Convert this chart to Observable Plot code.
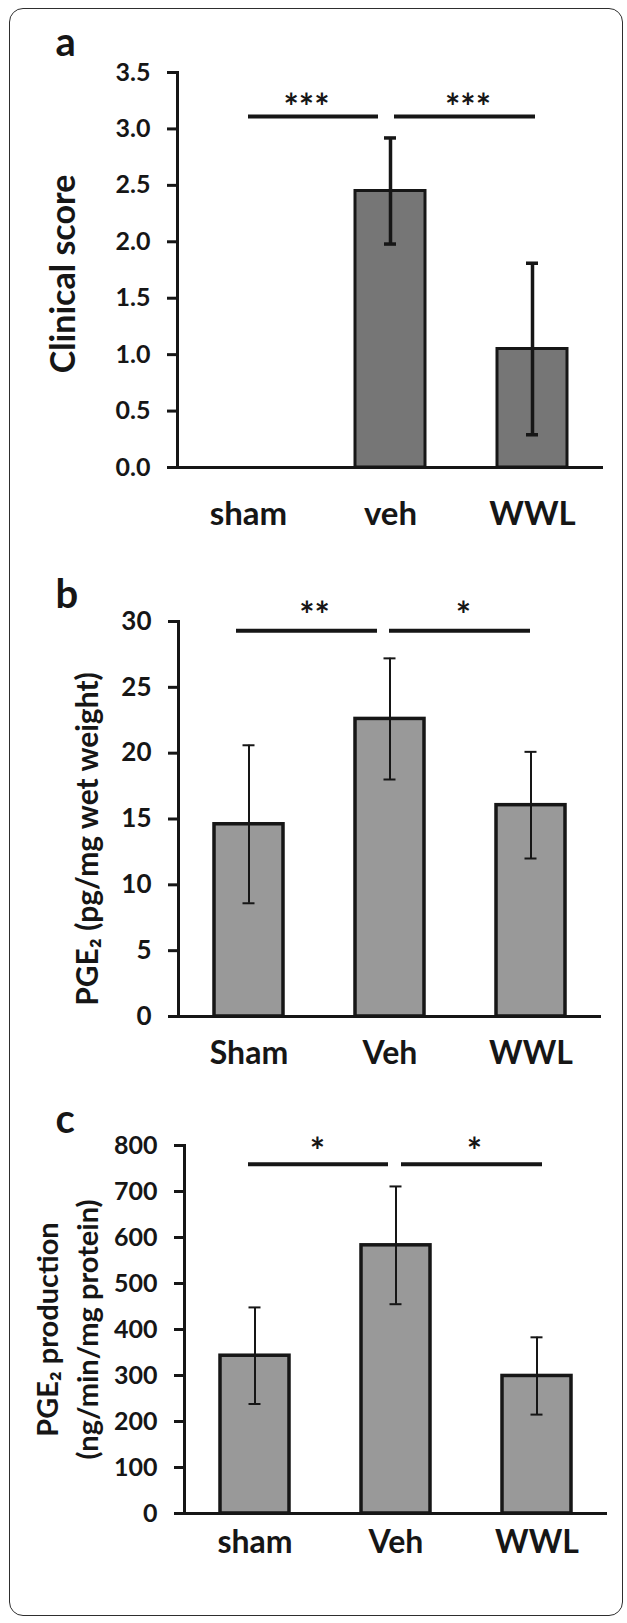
<!DOCTYPE html>
<html><head><meta charset="utf-8">
<script src="https://cdn.jsdelivr.net/npm/d3@7"></script>
<script src="https://cdn.jsdelivr.net/npm/@observablehq/plot@0.6"></script>
<style>
html,body{margin:0;padding:0;background:#fff;}
#wrap{position:relative;width:627px;height:1623px;overflow:hidden;}
#border{position:absolute;left:9px;top:8px;width:614px;height:1608px;border:1.5px solid #2e2e2e;border-radius:14px;box-sizing:border-box;}
.panel{position:absolute;left:0;}
</style></head><body>
<div id="wrap"><div id="border"></div></div>
<script>
// ---- Panel a: clinical score ----
const groupsA = ["sham", "veh", "WWL"];
const meanA = [0, 2.45, 1.05];
const errA = [0, 0.47, 0.76];
const ticksA = [0, 0.5, 1, 1.5, 2, 2.5, 3, 3.5];
const sigA = [{from: "sham", to: "veh", label: "***"}, {from: "veh", to: "WWL", label: "***"}];
const sigLevelA = 3.11;
const titleA = "Clinical score";

// ---- Panel b: PGE2 tissue ----
const groupsB = ["Sham", "Veh", "WWL"];
const meanB = [14.6, 22.6, 16.05];
const errB = [6.0, 4.6, 4.05];
const ticksB = [0, 5, 10, 15, 20, 25, 30];
const sigB = [{from: "Sham", to: "Veh", label: "**"}, {from: "Veh", to: "WWL", label: "*"}];
const sigLevelB = 29.3;
const titleB = "PGE\u2082 (pg/mg wet weight)";

// ---- Panel c: PGE2 production ----
const groupsC = ["sham", "Veh", "WWL"];
const meanC = [343, 583, 299];
const errC = [105, 128, 84];
const ticksC = [0, 100, 200, 300, 400, 500, 600, 700, 800];
const sigC = [{from: "sham", to: "Veh", label: "*"}, {from: "Veh", to: "WWL", label: "*"}];
const sigLevelC = 759;
const titleC = "PGE\u2082 production\n(ng/min/mg protein)";

const INK = "#161616";
const FONT = "Lato, 'Open Sans', sans-serif";

function panel(cfg) {
  const W = 627;
  const rows = cfg.groups.map((g, i) => ({group: g, mean: cfg.mean[i], err: cfg.err[i]}));
  const withErr = rows.filter(d => d.err > 0);
  const step = (W - cfg.ml - cfg.mr) / cfg.groups.length;
  const pin = 1 - cfg.bw / step;
  const marks = [
    Plot.barY(rows, {x: "group", y: "mean", fill: cfg.fill, stroke: INK, strokeWidth: cfg.barStroke}),
    Plot.ruleX(withErr, {x: "group", y1: d => d.mean - d.err, y2: d => d.mean + d.err, stroke: INK, strokeWidth: cfg.errStroke}),
    Plot.tickY(withErr, {x: "group", y: d => d.mean - d.err, stroke: INK, strokeWidth: cfg.errStroke, inset: (cfg.bw - 12) / 2}),
    Plot.tickY(withErr, {x: "group", y: d => d.mean + d.err, stroke: INK, strokeWidth: cfg.errStroke, inset: (cfg.bw - 12) / 2}),
    Plot.ruleY([0], {stroke: INK, strokeWidth: 3}),
    Plot.frame({anchor: "left", stroke: INK, strokeWidth: 3}),
    Plot.axisY({ticks: cfg.ticks, tickSize: 10, tickPadding: 17, tickFormat: cfg.fmt, fontSize: cfg.tickFont, strokeWidth: 3, stroke: INK, label: null}),
    Plot.axisX({tickSize: 0, tickPadding: cfg.xPad, fontSize: cfg.xFont, label: null}),
    Plot.text([cfg.title], {frameAnchor: "left", text: d => d, rotate: -90, textAnchor: "middle", lineAnchor: "bottom", fontSize: cfg.titleFont, lineHeight: cfg.lineHeight || 1, dx: cfg.titleDx, dy: cfg.titleDy}),
    Plot.text([cfg.letter], {frameAnchor: "top-left", text: d => d, textAnchor: "start", lineAnchor: "bottom", fontSize: 40, dx: cfg.letterDx, dy: cfg.letterDy})
  ];
  cfg.sig.forEach((s, i) => {
    const [offL, offR] = cfg.sigOff[i];
    marks.push(Plot.ruleY([s], {x1: "from", x2: "to", y: () => cfg.sigLevel, stroke: INK, strokeWidth: 4,
      insetLeft: cfg.bw / 2 + offL, insetRight: cfg.bw / 2 - offR}));
    marks.push(Plot.text([s], {x: "from", y: () => cfg.sigLevel, text: "label", fontSize: 36, lineAnchor: "bottom",
      dx: cfg.sigDx[i], dy: cfg.sigDy}));
  });
  const svg = Plot.plot({
    width: W, height: cfg.height,
    marginLeft: cfg.ml, marginRight: cfg.mr, marginTop: cfg.mt, marginBottom: cfg.mb,
    x: {type: "band", domain: cfg.groups, paddingInner: pin, paddingOuter: pin / 2},
    y: {domain: cfg.domain},
    style: {fontFamily: FONT, fontWeight: "bold", color: INK, background: "transparent", overflow: "visible"},
    marks
  });
  svg.classList.add("panel");
  svg.style.position = "absolute";
  svg.style.top = cfg.top + "px";
  svg.style.left = "0px";
  document.getElementById("wrap").appendChild(svg);
}

panel({
  top: 0, height: 545, ml: 177, mr: 24, mt: 72, mb: 78, bw: 70,
  groups: groupsA, mean: meanA, err: errA, ticks: ticksA, domain: [0, 3.5], fmt: d3.format(".1f"),
  fill: "#767676", barStroke: 3, errStroke: 3.5,
  tickFont: 25, xFont: 33, xPad: 34.5,
  title: titleA, titleFont: 34, titleDx: -103, titleDy: 4,
  letter: "a", letterDx: -122, letterDy: -17,
  sig: sigA, sigLevel: sigLevelA, sigOff: [[0, -12], [4, 3]], sigDx: [58, 77.5], sigDy: 3
});

panel({
  top: 545, height: 540, ml: 178, mr: 26, mt: 76, mb: 69, bw: 69,
  groups: groupsB, mean: meanB, err: errB, ticks: ticksB, domain: [0, 30], fmt: d => d,
  fill: "#999999", barStroke: 3.5, errStroke: 2,
  tickFont: 26, xFont: 32, xPad: 25,
  title: titleB, titleFont: 30, titleDx: -81, titleDy: 20,
  letter: "b", letterDx: -123, letterDy: -14,
  sig: sigB, sigLevel: sigLevelB, sigOff: [[-12.5, -12.5], [-0.5, -0.5]], sigDx: [65.5, 73.5], sigDy: -3
});

panel({
  top: 1085, height: 538, ml: 184, mr: 20, mt: 60, mb: 110, bw: 69,
  groups: groupsC, mean: meanC, err: errC, ticks: ticksC, domain: [0, 800], fmt: d => d,
  fill: "#999999", barStroke: 3.5, errStroke: 2,
  tickFont: 25, xFont: 32, xPad: 17,
  title: titleC, titleFont: 29, lineHeight: 1.36, titleDx: -87, titleDy: 0,
  letter: "c", letterDx: -129, letterDy: -13,
  sig: sigC, sigLevel: sigLevelC, sigOff: [[-6.5, -7.5], [5.5, 5.5]], sigDx: [62.5, 78.5], sigDy: 0
});
</script>
</body></html>
